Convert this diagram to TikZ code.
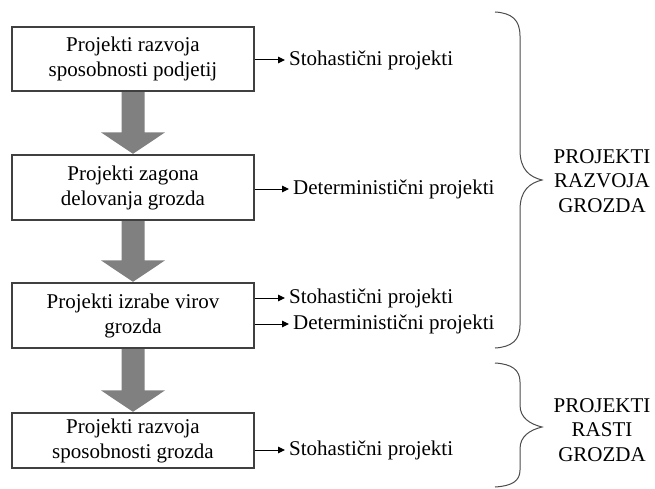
\documentclass[tikz,border=0pt]{standalone}
\usepackage{fontspec}
\setmainfont{Liberation Serif}
\usetikzlibrary{calc,arrows.meta}
\begin{document}
\begin{tikzpicture}[x=1pt,y=-1pt,
  stagebox/.style={draw=black!75,line width=1.2pt,minimum width=242pt,align=center,inner sep=0pt,font=\fontsize{21}{25}\selectfont},
  sidetext/.style={anchor=west,inner sep=3pt,font=\fontsize{21}{25}\selectfont},
  grouptext/.style={align=center,inner sep=0pt,font=\fontsize{21}{24.5}\selectfont},
  smallarrow/.style={line width=1pt,shorten >=1pt,-{Triangle[length=7pt,width=6.5pt]}},
  bracestyle/.style={draw=black!70,line width=1pt},
  bigarrow/.style={fill=black!50,draw=none}]
\useasboundingbox (0,0) rectangle (655,489);
% boxes
\node[stagebox,minimum height=64pt] (b1) at (133,59) {Projekti razvoja\\sposobnosti podjetij};
\node[stagebox,minimum height=65pt] (b2) at (133,187.5) {Projekti zagona\\delovanja grozda};
\node[stagebox,minimum height=65pt] (b3) at (133,315.5) {Projekti izrabe virov\\grozda};
\node[stagebox,minimum height=55pt] (b4) at (133,440.5) {Projekti razvoja\\sposobnosti grozda};
% big arrows
\foreach \a/\b in {b1/b2,b2/b3,b3/b4}{
  \fill[bigarrow] ($(\a.south)+(-11.5,0.6)$) -- ($(\b.north)+(-11.5,-22)$) -- ($(\b.north)+(-32,-22)$)
    -- ($(\b.north)+(0,-0.6)$) -- ($(\b.north)+(32,-22)$) -- ($(\b.north)+(11.5,-22)$) -- ($(\a.south)+(11.5,0.6)$) -- cycle;
}
% side texts
\node[sidetext] (s1) at (286,60) {Stohastični projekti};
\node[sidetext] (s2) at (290,189) {Deterministični projekti};
\node[sidetext] (s3a) at (286,298) {Stohastični projekti};
\node[sidetext] (s3b) at (290,324) {Deterministični projekti};
\node[sidetext] (s4) at (286,450) {Stohastični projekti};
\draw[smallarrow] (b1.east |- s1.west) -- (s1.west);
\draw[smallarrow] (b2.east |- s2.west) -- (s2.west);
\draw[smallarrow] (b3.east |- s3a.west) -- (s3a.west);
\draw[smallarrow] (b3.east |- s3b.west) -- (s3b.west);
\draw[smallarrow] (b4.east |- s4.west) -- (s4.west);
% braces
\draw[bracestyle] (495,12) .. controls (512,13) and (520,20) .. (520,36) -- (520,150)
  .. controls (520,170) and (530,177) .. (542,180)
  .. controls (530,183) and (520,190) .. (520,210) -- (520,325)
  .. controls (520,340) and (512,347) .. (495,348);
\draw[bracestyle] (495,363) .. controls (512,364) and (520,370) .. (520,382) -- (520,405)
  .. controls (520,418) and (530,424) .. (542,427)
  .. controls (530,430) and (520,436) .. (520,449) -- (520,470)
  .. controls (520,481) and (512,486) .. (495,487);
% group labels
\node[grouptext] (g1) at (602,181) {PROJEKTI\\RAZVOJA\\GROZDA};
\node[grouptext] (g2) at (602,430) {PROJEKTI\\RASTI\\GROZDA};
\end{tikzpicture}
\end{document}
